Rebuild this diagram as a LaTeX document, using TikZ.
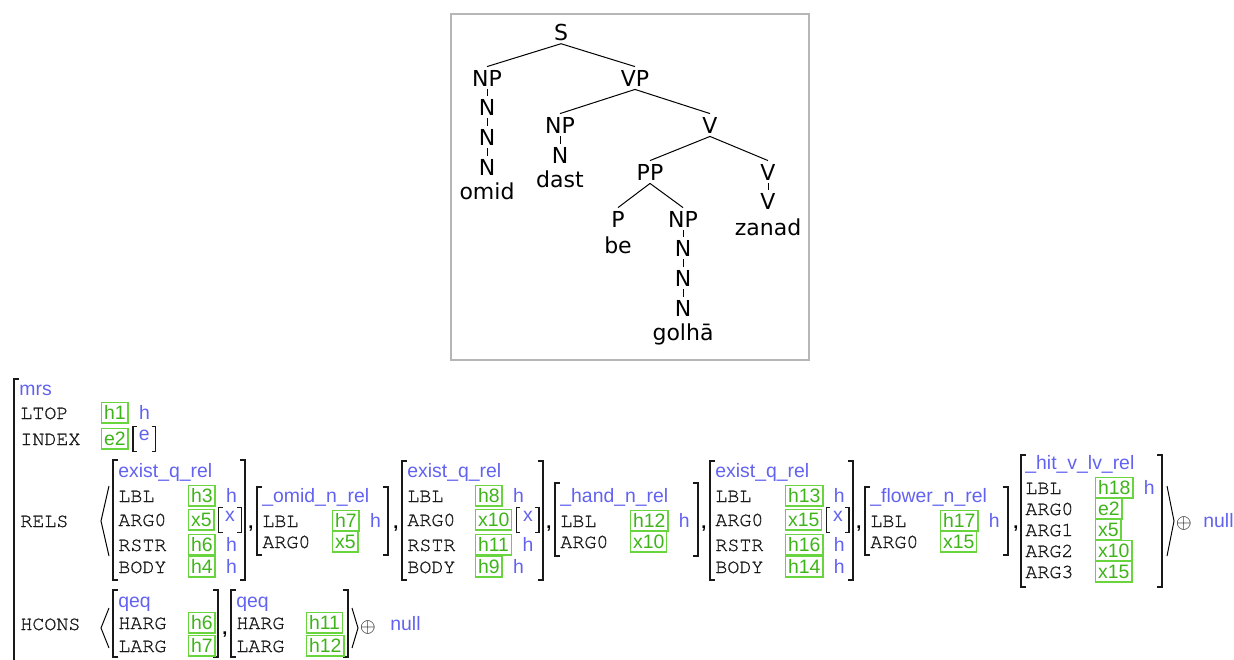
\documentclass[tikz,border=0pt]{standalone}
\usepackage{fontspec}
\usepackage{tikz}

\newfontfamily\treefont{DejaVu Sans}
\newfontfamily\avmsans{Liberation Sans}
\newfontfamily\avmmono{texgyrecursor-regular.otf}[FakeBold=0.9]

\definecolor{avmblue}{RGB}{98,98,240}
\definecolor{avmgreen}{RGB}{62,180,26}
\definecolor{boxgreen}{RGB}{104,212,62}
\definecolor{framegray}{RGB}{182,182,182}

% square brackets of a feature structure: left x, right x, top y, bottom y
\newcommand{\avmbrk}[4]{%
  \draw[brk] (#1+5,#3) -- (#1,#3) -- (#1,#4) -- (#1+5,#4);
  \draw[brk] (#2-5,#3) -- (#2,#3) -- (#2,#4) -- (#2-5,#4);}
% square brackets round a named node
\newcommand{\brkaround}[1]{%
  \draw[brk] ([xshift=2pt]#1.north west) -- (#1.north west) -- (#1.south west) -- ([xshift=2pt]#1.south west);
  \draw[brk] ([xshift=-2pt]#1.north east) -- (#1.north east) -- (#1.south east) -- ([xshift=-2pt]#1.south east);}

\begin{document}
\begin{tikzpicture}[x=0.5pt,y=-0.5pt,
  cat/.style={font=\treefont\fontsize{11}{13}\selectfont,inner sep=1.5pt},
  edge/.style={line width=0.5pt,black},
  feat/.style={font=\avmmono\fontsize{10}{12}\selectfont,text=black!90,anchor=base west,inner sep=0pt},
  sort/.style={font=\avmsans\fontsize{9.7}{11.6}\selectfont,text=avmblue,anchor=base west,inner sep=0pt},
  val/.style={font=\avmsans\fontsize{9.7}{11.6}\selectfont,text=avmgreen,draw=boxgreen,line width=0.7pt,
    anchor=base west,inner xsep=1.2pt,inner ysep=1.2pt,text height=7pt,text depth=0.75pt},
  tbx/.style={sort,text height=6.5pt,text depth=5.5pt,minimum width=11pt,inner sep=0pt},
  comma/.style={font=\avmsans\bfseries\fontsize{9}{11}\selectfont,anchor=base west,inner sep=0pt},
  osum/.style={font=\fontsize{10}{12}\selectfont,inner sep=0pt},
  brk/.style={line width=0.8pt,black!90},
  ang/.style={line width=0.5pt,black}]
\useasboundingbox (0,0) rectangle (1234,659);

% parse tree
\draw[framegray,line width=0.75pt] (451,14) rectangle (809,360);
\node[cat] (s) at (561,32) {S};
\node[cat] (np1) at (487,78) {NP};
\node[cat] (vp) at (635,78) {VP};
\node[cat] (n1a) at (487,107) {N};
\node[cat] (n1b) at (487,137) {N};
\node[cat] (n1c) at (487,167) {N};
\node[cat] (omid) at (487,191) {omid};
\node[cat] (np2) at (560,125) {NP};
\node[cat] (n2) at (560,155) {N};
\node[cat] (dast) at (560,179) {dast};
\node[cat] (v1) at (710,125) {V};
\node[cat] (pp) at (650,172) {PP};
\node[cat] (v2) at (768,172) {V};
\node[cat] (v3) at (768,201) {V};
\node[cat] (zanad) at (768,227) {zanad};
\node[cat] (p) at (618,219) {P};
\node[cat] (be) at (618,245) {be};
\node[cat] (np3) at (683,219) {NP};
\node[cat] (n3a) at (683,248) {N};
\node[cat] (n3b) at (683,278) {N};
\node[cat] (n3c) at (683,308) {N};
\node[cat] (golha) at (683,334) {golhā};
\draw[edge] (s.south) -- (np1.north);
\draw[edge] (s.south) -- (vp.north);
\draw[edge] (np1.south) -- (n1a.north);
\draw[edge] (n1a.south) -- (n1b.north);
\draw[edge] (n1b.south) -- (n1c.north);
\draw[edge] (vp.south) -- (np2.north);
\draw[edge] (vp.south) -- (v1.north);
\draw[edge] (np2.south) -- (n2.north);
\draw[edge] (v1.south) -- (pp.north);
\draw[edge] (v1.south) -- (v2.north);
\draw[edge] (v2.south) -- (v3.north);
\draw[edge] (pp.south) -- (p.north);
\draw[edge] (pp.south) -- (np3.north);
\draw[edge] (np3.south) -- (n3a.north);
\draw[edge] (n3a.south) -- (n3b.north);
\draw[edge] (n3b.south) -- (n3c.north);

% mrs structure
\draw[brk] (19,379) -- (14,379) -- (14,665);
\node[sort] (mrs) at (19,395) {mrs};
\node[feat] (ltop) at (20,419) {LTOP};
\node[val] (vltop) at (101,419) {h1};
\node[sort] (tltop) at ([xshift=5pt]vltop.base east) {h};
\node[feat] (index) at (20,445) {INDEX};
\node[val] (vindex) at (101,445) {e2};
\node[tbx] (tindex) at ([xshift=2pt,yshift=2.5pt]vindex.base east) {e};
\brkaround{tindex}

% RELS list
\node[feat] (rels) at (20,527) {RELS};
\draw[ang] (109,486) -- (101,521) -- (109,556);

\avmbrk{113}{245}{460}{580}
\node[sort] (r1) at (118,477) {exist\_q\_rel};
\node[feat] (r1lbl) at (118,502) {LBL};
\node[feat] (r1arg0) at (118,526) {ARG0};
\node[feat] (r1rstr) at (118,551) {RSTR};
\node[feat] (r1body) at (118,573) {BODY};
\node[val] (v1lbl) at (188,502) {h3};
\node[val] (v1arg0) at (188,526) {x5};
\node[val] (v1rstr) at (188,551) {h6};
\node[val] (v1body) at (188,573) {h4};
\node[sort] (t1lbl) at ([xshift=5pt]v1lbl.base east) {h};
\node[tbx] (t1arg0) at ([xshift=2pt,yshift=2.5pt]v1arg0.base east) {x};
\brkaround{t1arg0}
\node[sort] (t1rstr) at ([xshift=5pt]v1rstr.base east) {h};
\node[sort] (t1body) at ([xshift=5pt]v1body.base east) {h};
\node[comma] (c1) at (248,528) {,};

\avmbrk{257}{388}{487}{555}
\node[sort] (r2) at (262,502) {\_omid\_n\_rel};
\node[feat] (r2lbl) at (262,527) {LBL};
\node[feat] (r2arg0) at (262,548) {ARG0};
\node[val] (v2lbl) at (332,527) {h7};
\node[val] (v2arg0) at (332,548) {x5};
\node[sort] (t2lbl) at ([xshift=5pt]v2lbl.base east) {h};
\node[comma] (c2) at (393,528) {,};

\avmbrk{402}{543}{461}{580}
\node[sort] (r3) at (407,477) {exist\_q\_rel};
\node[feat] (r3lbl) at (407,502) {LBL};
\node[feat] (r3arg0) at (407,526) {ARG0};
\node[feat] (r3rstr) at (407,551) {RSTR};
\node[feat] (r3body) at (407,573) {BODY};
\node[val] (v3lbl) at (475,502) {h8};
\node[val] (v3arg0) at (475,526) {x10};
\node[val] (v3rstr) at (475,551) {h11};
\node[val] (v3body) at (475,573) {h9};
\node[sort] (t3lbl) at ([xshift=5pt]v3lbl.base east) {h};
\node[tbx] (t3arg0) at ([xshift=2pt,yshift=2.5pt]v3arg0.base east) {x};
\brkaround{t3arg0}
\node[sort] (t3rstr) at ([xshift=5pt]v3rstr.base east) {h};
\node[sort] (t3body) at ([xshift=5pt]v3body.base east) {h};
\node[comma] (c3) at (546,528) {,};

\avmbrk{555}{698}{483}{556}
\node[sort] (r4) at (560,502) {\_hand\_n\_rel};
\node[feat] (r4lbl) at (560,527) {LBL};
\node[feat] (r4arg0) at (560,548) {ARG0};
\node[val] (v4lbl) at (630,527) {h12};
\node[val] (v4arg0) at (630,548) {x10};
\node[sort] (t4lbl) at ([xshift=5pt]v4lbl.base east) {h};
\node[comma] (c4) at (701,528) {,};

\avmbrk{710}{853}{461}{580}
\node[sort] (r5) at (715,477) {exist\_q\_rel};
\node[feat] (r5lbl) at (715,502) {LBL};
\node[feat] (r5arg0) at (715,526) {ARG0};
\node[feat] (r5rstr) at (715,551) {RSTR};
\node[feat] (r5body) at (715,573) {BODY};
\node[val] (v5lbl) at (785,502) {h13};
\node[val] (v5arg0) at (785,526) {x15};
\node[val] (v5rstr) at (785,551) {h16};
\node[val] (v5body) at (785,573) {h14};
\node[sort] (t5lbl) at ([xshift=5pt]v5lbl.base east) {h};
\node[tbx] (t5arg0) at ([xshift=2pt,yshift=2.5pt]v5arg0.base east) {x};
\brkaround{t5arg0}
\node[sort] (t5rstr) at ([xshift=5pt]v5rstr.base east) {h};
\node[sort] (t5body) at ([xshift=5pt]v5body.base east) {h};
\node[comma] (c5) at (856,528) {,};

\avmbrk{865}{1008}{487}{555}
\node[sort] (r6) at (870,502) {\_flower\_n\_rel};
\node[feat] (r6lbl) at (870,527) {LBL};
\node[feat] (r6arg0) at (870,548) {ARG0};
\node[val] (v6lbl) at (940,527) {h17};
\node[val] (v6arg0) at (940,548) {x15};
\node[sort] (t6lbl) at ([xshift=5pt]v6lbl.base east) {h};
\node[comma] (c6) at (1013,528) {,};

\avmbrk{1021}{1162}{455}{587}
\node[sort] (r7) at (1025,469) {\_hit\_v\_lv\_rel};
\node[feat] (r7lbl) at (1025,494) {LBL};
\node[feat] (r7arg0) at (1025,515) {ARG0};
\node[feat] (r7arg1) at (1025,536) {ARG1};
\node[feat] (r7arg2) at (1025,557) {ARG2};
\node[feat] (r7arg3) at (1025,578) {ARG3};
\node[val] (v7lbl) at (1095,494) {h18};
\node[val] (v7arg0) at (1095,515) {e2};
\node[val] (v7arg1) at (1095,536) {x5};
\node[val] (v7arg2) at (1095,557) {x10};
\node[val] (v7arg3) at (1095,578) {x15};
\node[sort] (t7lbl) at ([xshift=5pt]v7lbl.base east) {h};

\draw[ang] (1167,486) -- (1174,521) -- (1167,556);
\node[osum] (plus1) at (1184,523) {$\oplus$};
\node[sort] (null1) at (1203,527) {null};

% HCONS list
\node[feat] (hcons) at (20,630) {HCONS};
\draw[ang] (109,608) -- (101,628) -- (109,648);

\avmbrk{113}{218}{590}{657}
\node[sort] (q1) at (118,607) {qeq};
\node[feat] (q1harg) at (118,629) {HARG};
\node[feat] (q1larg) at (118,652) {LARG};
\node[val] (w1harg) at (188,629) {h6};
\node[val] (w1larg) at (188,652) {h7};
\node[comma] (c7) at (222,634) {,};

\avmbrk{231}{348}{590}{657}
\node[sort] (q2) at (236,607) {qeq};
\node[feat] (q2harg) at (236,629) {HARG};
\node[feat] (q2larg) at (236,652) {LARG};
\node[val] (w2harg) at (306,629) {h11};
\node[val] (w2larg) at (306,652) {h12};

\draw[ang] (352,608) -- (358,628) -- (352,648);
\node[osum] (plus2) at (368,627) {$\oplus$};
\node[sort] (null2) at (390,630) {null};
\end{tikzpicture}
\end{document}
